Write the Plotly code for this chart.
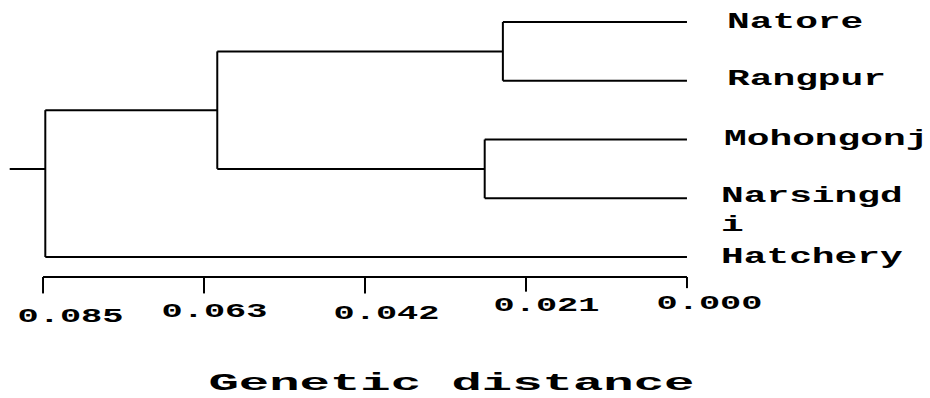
import json
import plotly.graph_objects as go

# ---------------- data ----------------
leaf_names = ["Natore", "Rangpur", "Mohongonj", "Narsingd<br>i", "Hatchery"]
leaf_rows = [0, 1, 2, 3, 4]
leaf_dist = [0.0, 0.0, 0.0, 0.0, 0.0]

# internal nodes: height (genetic distance) and children (leaf index or node name)
node_height = {"B": 0.0243, "C": 0.0267, "A": 0.0620, "root": 0.0847}
node_children = {
    "B": [0, 1],          # Natore, Rangpur
    "C": [2, 3],          # Mohongonj, Narsingdi
    "A": ["B", "C"],
    "root": ["A", 4],     # + Hatchery
}
root_stub_dist = 0.0894
root_stub_row = 2.5

scale_ticks = [0.085, 0.06375, 0.0425, 0.02125, 0.0]
scale_tick_labels = ["0.085", "0.063", "0.042", "0.021", "0.000"]
axis_title = "Genetic distance"

# ---------------- style ----------------
LINE = dict(color="black", width=2)
FONT = "Liberation Mono, Courier New, monospace"
scale_row = 4.34
tick_len_rows = [0.28, 0.28, 0.28, 0.25, 0.19]
tick_label_dx = [27, 10, 21, 21, 23]          # px, label centre right of tick
tick_label_dy = [40, 35, 37, 29, 27]          # px, label centre below bar
leaf_label_dx = [38, 38, 35, 32, 32]          # px
leaf_label_dy = [0, 1, 0, -13, 0]             # px (positive = up)

# ---------------- build tree segments ----------------
xs, ys = [], []


def pos(n):
    if isinstance(n, int):
        return leaf_dist[n], leaf_rows[n]
    kids = [pos(c) for c in node_children[n]]
    return node_height[n], sum(k[1] for k in kids) / len(kids)


def draw(n):
    if isinstance(n, int):
        return
    h, _ = pos(n)
    kids = [pos(c) for c in node_children[n]]
    xs.extend([h, h, None])
    ys.extend([min(k[1] for k in kids), max(k[1] for k in kids), None])
    for c, (kh, ky) in zip(node_children[n], kids):
        xs.extend([h, kh, None])
        ys.extend([ky, ky, None])
        draw(c)


draw("root")
xs.extend([root_stub_dist, node_height["root"], None])
ys.extend([root_stub_row, root_stub_row, None])

fig = go.Figure()
fig.add_trace(go.Scatter(x=xs, y=ys, mode="lines", line=LINE,
                         hoverinfo="skip", showlegend=False))

# scale bar
sx, sy = [max(scale_ticks), min(scale_ticks), None], [scale_row, scale_row, None]
for t, tl in zip(scale_ticks, tick_len_rows):
    sx.extend([t, t, None])
    sy.extend([scale_row, scale_row + tl, None])
fig.add_trace(go.Scatter(x=sx, y=sy, mode="lines", line=LINE,
                         hoverinfo="skip", showlegend=False))

annotations = []
stretch = []
for name, r, d, dx, dy in zip(leaf_names, leaf_rows, leaf_dist,
                              leaf_label_dx, leaf_label_dy):
    annotations.append(dict(
        x=d, y=r, xref="x", yref="y", text=name, showarrow=False,
        xanchor="left", yanchor="middle", align="left",
        xshift=dx, yshift=dy,
        font=dict(family=FONT, size=22, color="black", weight="bold"),
    ))
    stretch.append(1.72)
for t, lab, dx, dy in zip(scale_ticks, scale_tick_labels,
                          tick_label_dx, tick_label_dy):
    annotations.append(dict(
        x=t, y=scale_row, xref="x", yref="y", text=lab,
        showarrow=False, xanchor="center", yanchor="middle",
        xshift=dx, yshift=-dy,
        font=dict(family=FONT, size=21, color="black", weight="bold"),
    ))
    stretch.append(1.68)
annotations.append(dict(
    x=451 / 930, y=1 - 384 / 398, xref="paper", yref="paper", text=axis_title,
    showarrow=False, xanchor="center", yanchor="middle",
    font=dict(family=FONT, size=23, color="black", weight="bold"),
))
stretch.append(2.2)

fig.update_layout(
    width=930, height=398,
    margin=dict(l=0, r=0, t=0, b=0),
    paper_bgcolor="white", plot_bgcolor="white",
    xaxis=dict(range=[0.09068, -0.03208], visible=False, fixedrange=True),
    yaxis=dict(range=[6.4, -0.3745], visible=False, fixedrange=True),
    annotations=annotations,
    showlegend=False,
)

post_js = """
document.body.style.margin = '0';
var gd = document.getElementById('{plot_id}');
var k = STRETCH;
gd.querySelectorAll('g.annotation').forEach(function (g) {
  var i = +g.getAttribute('data-index');
  var t = g.querySelector('text.annotation-text');
  if (!t || !k[i]) return;
  var lines = t.querySelectorAll('tspan.line');
  var els = lines.length ? Array.prototype.slice.call(lines) : [t];
  els.forEach(function (el) {
    var w = el.getComputedTextLength();
    el.setAttribute('textLength', (w * k[i]).toFixed(1));
    el.setAttribute('lengthAdjust', 'spacingAndGlyphs');
  });
});
""".replace("STRETCH", json.dumps(stretch))

fig.write_html("out.html", post_script=post_js,
               config={"displayModeBar": False, "staticPlot": True})
